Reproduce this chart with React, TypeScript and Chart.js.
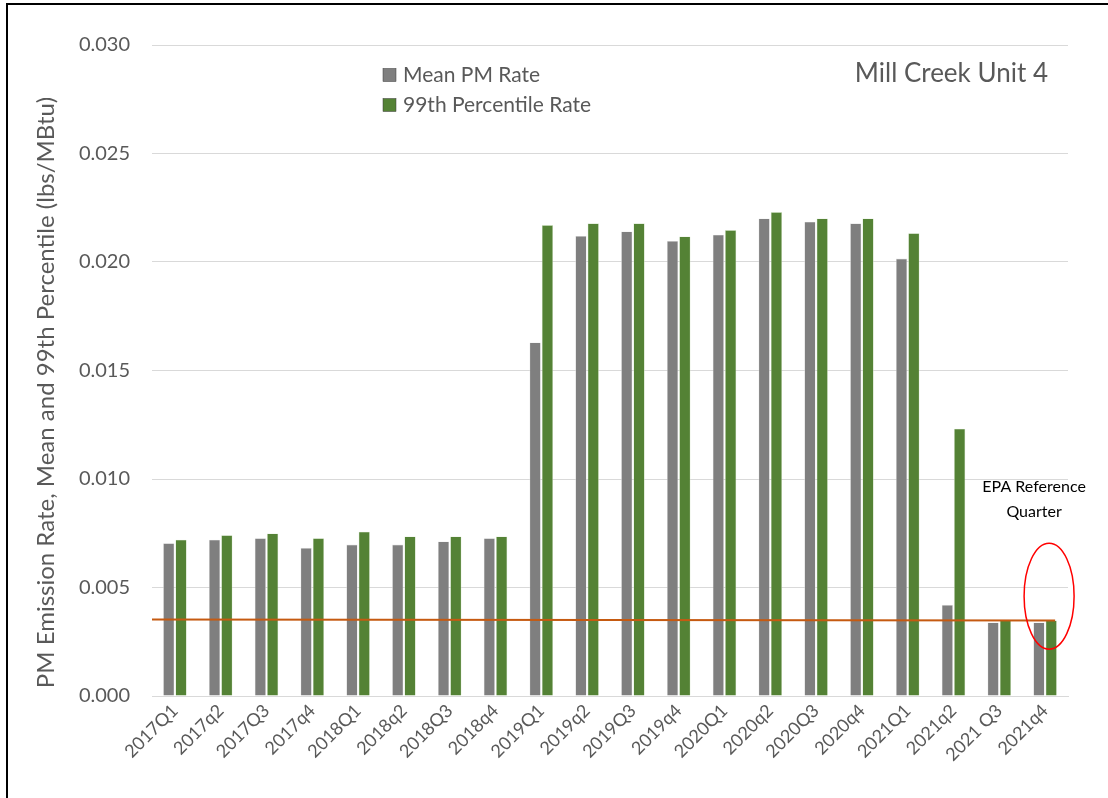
import React, { useEffect, useRef } from "react";
import { Chart, registerables } from "chart.js";

Chart.register(...registerables);

const categories = ["2017Q1", "2017q2", "2017Q3", "2017q4", "2018Q1", "2018q2", "2018Q3", "2018q4", "2019Q1", "2019q2", "2019Q3", "2019q4", "2020Q1", "2020q2", "2020Q3", "2020q4", "2021Q1", "2021q2", "2021 Q3", "2021q4"];
const meanRate = [0.00704, 0.0072, 0.00727, 0.00683, 0.00698, 0.00698, 0.00712, 0.00727, 0.01629, 0.0212, 0.02141, 0.02097, 0.02126, 0.02201, 0.02186, 0.02178, 0.02016, 0.0042, 0.00339, 0.00339];
const p99Rate = [0.0072, 0.00741, 0.00749, 0.00727, 0.00757, 0.00735, 0.00735, 0.00735, 0.0217, 0.02178, 0.02178, 0.02118, 0.02147, 0.0223, 0.02201, 0.02201, 0.02133, 0.01232, 0.00348, 0.00348];
const refLine = [0.00353, 0.00348]; // start (left edge) / end (last quarter)
const refQuarterIndex = 19;
const refEllipse = [0.0046, 0.00244]; // center value, vertical radius in value units
const yTicks = [0, 0.005, 0.01, 0.015, 0.02, 0.025, 0.03];
const chartTitle = "Mill Creek Unit 4";
const yTitle = "PM Emission Rate, Mean and 99th Percentile (lbs/MBtu)";
const annotationLines = ["EPA Reference", "Quarter"];
const seriesLabels = ["Mean PM Rate", "99th Percentile Rate"];

const FONT = "Lato, 'Open Sans', sans-serif";
const TEXT = "#595959";

const overlay = {
  id: "overlay",
  afterDatasetsDraw(chart: any) {
    const { ctx, chartArea, scales } = chart;
    const x = scales.x;
    const y = scales.y;
    ctx.save();
    // reference line
    ctx.strokeStyle = "#c55a11";
    ctx.lineWidth = 2;
    ctx.beginPath();
    ctx.moveTo(chartArea.left, y.getPixelForValue(refLine[0]));
    ctx.lineTo(x.getPixelForValue(refQuarterIndex) + 10, y.getPixelForValue(refLine[1]));
    ctx.stroke();
    // ellipse
    const cx = x.getPixelForValue(refQuarterIndex) + 4;
    const cy = y.getPixelForValue(refEllipse[0]);
    const ry = Math.abs(y.getPixelForValue(refEllipse[0] + refEllipse[1]) - cy);
    ctx.strokeStyle = "#ff0000";
    ctx.lineWidth = 1.5;
    ctx.beginPath();
    ctx.ellipse(cx, cy, 25, ry, 0, 0, Math.PI * 2);
    ctx.stroke();
    // annotation text
    ctx.fillStyle = "#000";
    ctx.font = `16px ${FONT}`;
    ctx.textAlign = "center";
    ctx.textBaseline = "middle";
    const ax = x.getPixelForValue(refQuarterIndex) - 11;
    const ay = y.getPixelForValue(0.00963);
    annotationLines.forEach((t, i) => ctx.fillText(t, ax, ay + i * 25));
    ctx.restore();
  },
  afterDraw(chart: any) {
    const { ctx, chartArea } = chart;
    ctx.save();
    // title
    ctx.fillStyle = TEXT;
    ctx.font = `26px ${FONT}`;
    ctx.textAlign = "right";
    ctx.textBaseline = "middle";
    ctx.fillText(chartTitle, chartArea.right - 20, chartArea.top + 29);
    // legend
    ctx.font = `21px ${FONT}`;
    ctx.textAlign = "left";
    chart.data.datasets.forEach((ds: any, i: number) => {
      const ly = chartArea.top + 30 + i * 30;
      const lx = 383;
      ctx.fillStyle = ds.backgroundColor;
      ctx.fillRect(lx, ly - 6.5, 13, 13);
      ctx.strokeStyle = "#3a3a3a";
      ctx.lineWidth = 0.5;
      ctx.strokeRect(lx, ly - 6.5, 13, 13);
      ctx.fillStyle = TEXT;
      ctx.fillText(ds.label, lx + 20, ly);
    });
    // y axis title
    ctx.save();
    ctx.translate(46, (chartArea.top + chartArea.bottom) / 2 + 22);
    ctx.rotate(-Math.PI / 2);
    ctx.font = `24px ${FONT}`;
    ctx.textAlign = "center";
    ctx.textBaseline = "middle";
    ctx.fillStyle = TEXT;
    ctx.fillText(yTitle, 0, 0);
    ctx.restore();
    ctx.restore();
  },
};

export default function App() {
  const ref = useRef<HTMLCanvasElement | null>(null);
  useEffect(() => {
    if (!ref.current) return;
    const chart = new Chart(ref.current, {
      type: "bar",
      data: {
        labels: categories,
        datasets: [
          { label: seriesLabels[0], data: meanRate, backgroundColor: "#7f7f7f", borderColor: "#e4e4e4", borderWidth: 0.6, categoryPercentage: 0.537, barPercentage: 0.92 },
          { label: seriesLabels[1], data: p99Rate, backgroundColor: "#548235", borderColor: "#d6e6cc", borderWidth: 0.6, categoryPercentage: 0.537, barPercentage: 0.92 },
        ],
      },
      options: {
        responsive: false,
        animation: false,
        layout: { padding: { left: 0, right: 40, top: 45, bottom: 0 } },
        plugins: { legend: { display: false }, tooltip: { enabled: false }, title: { display: false } },
        scales: {
          x: {
            grid: { display: false, drawTicks: false },
            border: { display: true, color: "#d9d9d9", width: 1 },
            ticks: { color: TEXT, font: { family: FONT, size: 18 }, minRotation: 45, maxRotation: 45, autoSkip: false, padding: 4 },
            afterFit: (s: any) => { s.height = 102; },
          },
          y: {
            min: 0,
            max: 0.03,
            afterBuildTicks: (s: any) => { s.ticks = yTicks.map((v) => ({ value: v })); },
            grid: { color: "#d9d9d9", lineWidth: 1, drawTicks: false },
            border: { display: false },
            ticks: { color: TEXT, font: { family: FONT, size: 20 }, padding: 22, callback: (v: any) => Number(v).toFixed(3) },
            afterFit: (s: any) => { s.width = 152; },
          },
        },
      },
      plugins: [overlay],
    });
    return () => chart.destroy();
  }, []);
  return (
    <div style={{ position: "fixed", left: 0, top: 0, width: 1108, height: 798, background: "#fff", overflow: "hidden" }}>
      <canvas ref={ref} width={1108} height={798} style={{ position: "absolute", left: 0, top: 0 }} />
      <div style={{ position: "absolute", left: 6, top: 3, width: 1110, height: 800, borderTop: "2px solid #000", borderLeft: "2px solid #000" }} />
    </div>
  );
}
